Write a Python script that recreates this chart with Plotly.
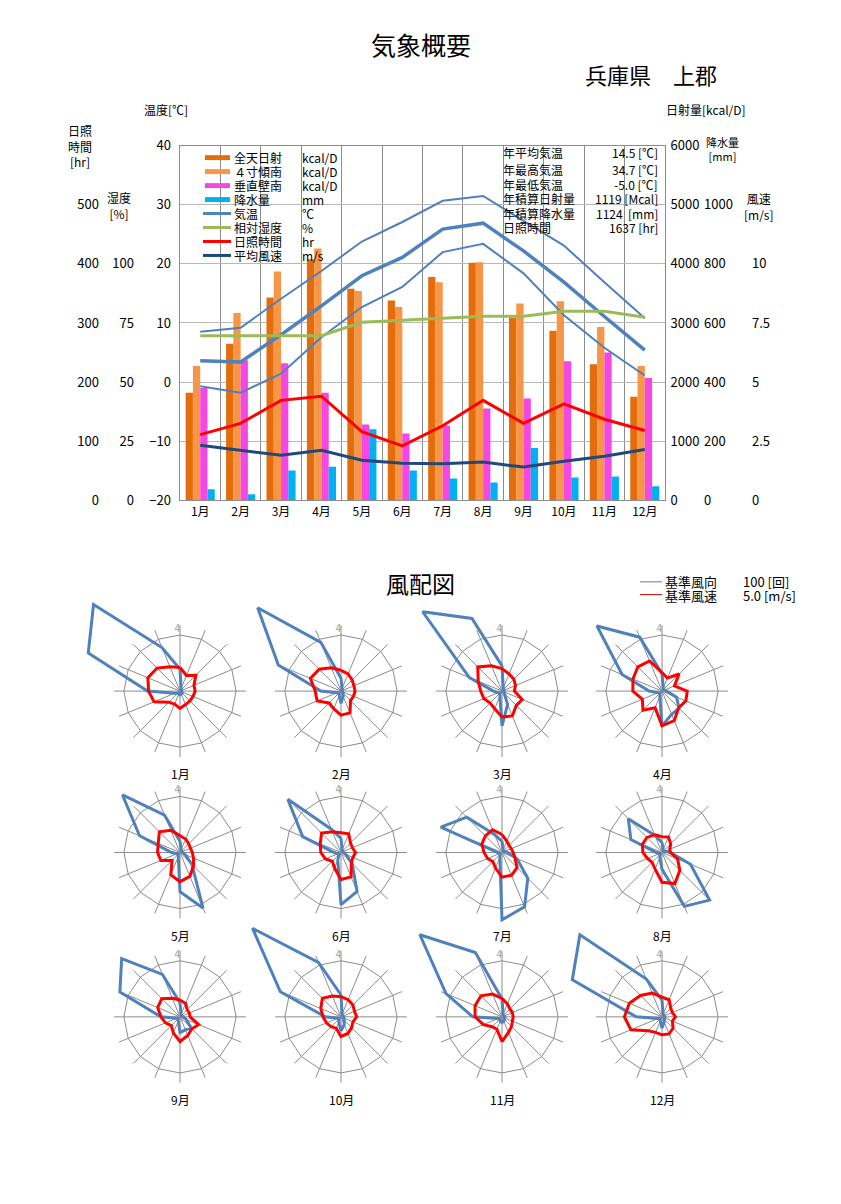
import plotly.graph_objects as go

W, H = 841, 1204
FONT = "Noto Sans CJK JP"

# ---- monthly summary data ----
months = ["1月", "2月", "3月", "4月", "5月", "6月", "7月", "8月", "9月", "10月", "11月", "12月"]
solar_total = [1820, 2650, 3430, 4080, 3580, 3380, 3780, 4020, 3090, 2870, 2300, 1750]   # kcal/D
solar_tilt = [2270, 3170, 3870, 4260, 3540, 3270, 3690, 4030, 3330, 3370, 2930, 2270]    # kcal/D
solar_wall = [1900, 2370, 2320, 1820, 1280, 1130, 1260, 1550, 1720, 2350, 2500, 2070]    # kcal/D
precip = [37, 20, 100, 113, 240, 100, 73, 60, 177, 77, 80, 47]                            # mm
temp_max = [8.5, 9.2, 14.1, 18.8, 23.8, 27.1, 30.7, 31.5, 27.3, 23.1, 16.9, 10.8]
temp_mean = [3.6, 3.4, 8.0, 12.9, 18.0, 21.1, 25.9, 26.9, 22.2, 16.9, 11.1, 5.4]
temp_min = [-0.7, -1.8, 1.4, 7.6, 12.7, 16.1, 22.0, 23.4, 18.4, 11.3, 5.8, 1.1]
humidity = [69.6, 69.6, 69.6, 69.6, 75.3, 76.1, 77.2, 77.9, 77.9, 80.0, 80.0, 77.4]
sunshine = [111, 130, 169, 176, 116, 92, 126, 169, 130, 163, 137, 118]
wind_mean = [2.32, 2.11, 1.90, 2.11, 1.69, 1.56, 1.54, 1.61, 1.40, 1.65, 1.86, 2.14]

stats_labels = ["年平均気温", "年最高気温", "年最低気温", "年積算日射量", "年積算降水量", "日照時間"]
stats_values = ["14.5 [℃]", "34.7 [℃]", "-5.0 [℃]", "1119 [Mcal]", "1124  [mm]", "1637 [hr]"]

# ---- wind rose data (16 directions, clockwise from N) ----
dirs = ["N", "NNE", "NE", "ENE", "E", "ESE", "SE", "SSE",
        "S", "SSW", "SW", "WSW", "W", "WNW", "NW", "NNW"]
REF_COUNT = 100   # 基準風向 [回]
REF_SPEED = 5.0   # 基準風速 [m/s]
dir_count = [
    [39, 5, 3, 3, 3, 3, 5, 5, 8, 5, 5, 10, 58, 177, 218, 84],
    [23, 5, 3, 3, 3, 3, 5, 10, 22, 8, 5, 8, 36, 121, 210, 94],
    [45, 6, 4, 4, 4, 4, 6, 26, 62, 10, 5, 8, 15, 63, 200, 140],
    [31, 6, 4, 5, 8, 28, 43, 45, 62, 10, 5, 8, 23, 77, 164, 104],
    [20, 5, 4, 4, 5, 10, 30, 107, 70, 8, 5, 6, 15, 78, 145, 72],
    [25, 5, 4, 4, 5, 10, 28, 75, 93, 15, 5, 6, 12, 74, 134, 45],
    [20, 5, 4, 5, 10, 29, 65, 105, 120, 10, 5, 5, 8, 118, 89, 35],
    [18, 5, 4, 6, 15, 55, 120, 104, 30, 10, 5, 5, 10, 60, 85, 33],
    [25, 5, 4, 4, 6, 12, 28, 25, 28, 8, 5, 6, 34, 116, 147, 82],
    [39, 5, 4, 4, 5, 5, 8, 15, 25, 10, 5, 6, 28, 117, 223, 105],
    [32, 5, 4, 4, 5, 5, 6, 8, 10, 8, 6, 8, 52, 108, 207, 124],
    [30, 5, 4, 4, 5, 5, 6, 10, 20, 8, 5, 8, 46, 173, 207, 73],
]
dir_speed = [
    [2.1, 1.5, 2.0, 1.35, 1.35, 1.25, 1.25, 1.3, 1.55, 1.25, 1.4, 2.5, 2.8, 3.1, 2.9, 2.35],
    [1.85, 1.65, 1.4, 1.25, 1.25, 1.2, 1.2, 2.1, 2.15, 1.7, 1.5, 2.3, 2.3, 2.95, 2.75, 2.25],
    [2.0, 1.65, 1.5, 1.3, 1.1, 1.95, 1.8, 2.4, 2.3, 1.7, 1.5, 1.75, 1.9, 2.3, 3.05, 2.45],
    [1.65, 1.25, 2.15, 1.2, 2.25, 2.3, 2.1, 2.85, 3.1, 1.6, 2.4, 1.9, 2.6, 2.8, 3.05, 2.9],
    [1.5, 1.3, 1.1, 1.0, 1.1, 1.3, 1.7, 2.3, 2.6, 2.15, 1.0, 1.85, 2.0, 2.1, 2.6, 2.15],
    [1.75, 1.8, 1.2, 1.1, 1.3, 1.15, 1.3, 2.35, 2.4, 1.5, 1.1, 1.5, 1.8, 2.0, 2.45, 2.0],
    [1.6, 1.1, 0.9, 0.9, 1.0, 1.25, 1.9, 2.2, 2.2, 1.5, 1.15, 1.4, 1.6, 1.95, 2.1, 2.2],
    [1.4, 1.5, 1.1, 0.75, 0.75, 1.5, 2.25, 3.0, 2.65, 1.6, 1.25, 1.4, 1.7, 1.9, 1.9, 1.7],
    [1.5, 1.3, 0.9, 0.9, 0.9, 1.8, 1.5, 1.8, 2.2, 1.55, 1.1, 1.4, 1.7, 2.15, 2.3, 1.8],
    [1.8, 1.65, 1.5, 1.3, 1.4, 1.15, 1.35, 1.6, 1.75, 1.1, 1.25, 1.4, 1.6, 1.95, 2.35, 2.0],
    [1.65, 1.25, 1.0, 1.0, 1.0, 1.0, 1.2, 1.5, 2.2, 1.2, 1.25, 1.8, 2.4, 2.6, 2.65, 2.2],
    [1.75, 1.65, 1.1, 1.0, 1.2, 1.0, 1.4, 1.65, 1.6, 1.5, 1.75, 3.0, 3.35, 3.15, 2.7, 2.3],
]

C_TOTAL, C_TILT, C_WALL, C_RAIN = "#E46C0A", "#F79646", "#F447E3", "#00B0F0"
C_TEMP, C_HUM, C_SUN, C_WIND = "#4F81BD", "#9BBB59", "#FF0000", "#1F497D"
GRID = "#8c8c8c"


def fx(px):
    return px / W


def fy(py):
    return 1 - py / H


fig = go.Figure()

# ---- main chart: bars ----
bar_specs = [
    (solar_total, C_TOTAL, "y", -0.36),
    (solar_tilt, C_TILT, "y", -0.18),
    (solar_wall, C_WALL, "y", 0.0),
    (precip, C_RAIN, "y2", 0.18),
]
for vals, col, ax, off in bar_specs:
    fig.add_trace(go.Bar(x=months, y=vals, yaxis=ax, width=0.18, offset=off,
                         marker=dict(color=col, line=dict(width=0)), showlegend=False))

# ---- main chart: lines ----
for vals, w in [(temp_max, 2), (temp_mean, 3.5), (temp_min, 2)]:
    fig.add_trace(go.Scatter(x=months, y=vals, yaxis="y3", mode="lines",
                             line=dict(color=C_TEMP, width=w), showlegend=False))
fig.add_trace(go.Scatter(x=months, y=humidity, yaxis="y4", mode="lines",
                         line=dict(color=C_HUM, width=3), showlegend=False))
fig.add_trace(go.Scatter(x=months, y=sunshine, yaxis="y5", mode="lines",
                         line=dict(color=C_SUN, width=3), showlegend=False))
fig.add_trace(go.Scatter(x=months, y=wind_mean, yaxis="y6", mode="lines",
                         line=dict(color=C_WIND, width=3), showlegend=False))

tickfont = dict(family=FONT, size=13, color="black")
plot_dom_y = [fy(498), fy(138)]
common = dict(showgrid=False, zeroline=False, ticks="", tickfont=tickfont)

fig.update_layout(
    xaxis=dict(domain=[fx(180), fx(665)], type="category", categoryarray=months,
               tickson="boundaries", showgrid=True, gridcolor=GRID, showline=True,
               linecolor=GRID, mirror=True, ticks="", tickfont=dict(family=FONT, size=12, color="black")),
    yaxis=dict(domain=plot_dom_y, anchor="x", side="right", range=[0, 6000], dtick=1000,
               showgrid=True, gridcolor="#b8b8b8", showline=True, linecolor=GRID, mirror=True,
               zeroline=False, ticks="", tickfont=tickfont, ticklabelstandoff=2),
    yaxis2=dict(overlaying="y", anchor="free", side="right", position=fx(703), range=[0, 1200],
                tickvals=[0, 200, 400, 600, 800, 1000], **common),
    yaxis3=dict(overlaying="y", anchor="x", side="left", range=[-20, 40], dtick=10,
                ticklabelstandoff=8, **common),
    yaxis4=dict(overlaying="y", anchor="free", side="left", position=fx(134), range=[0, 150],
                tickvals=[0, 25, 50, 75, 100], **common),
    yaxis5=dict(overlaying="y", anchor="free", side="left", position=fx(99), range=[0, 600],
                tickvals=[0, 100, 200, 300, 400, 500], **common),
    yaxis6=dict(overlaying="y", anchor="free", side="right", position=fx(751), range=[0, 15],
                tickvals=[0, 2.5, 5, 7.5, 10], ticktext=["0", "2.5", "5", "7.5", "10"], **common),
    barmode="overlay",
)

annotations = []
shapes = []


def text(t, x, y, size=12, xanchor="center", color="black"):
    annotations.append(dict(text=t, x=fx(x), y=fy(y), xref="paper", yref="paper",
                            xanchor=xanchor, yanchor="middle", showarrow=False,
                            font=dict(family=FONT, size=size, color=color)))


# titles
text("気象概要", 421, 35, 25)
text("兵庫県　上郡", 651, 65, 22)
text("風配図", 420, 582, 23)

# axis titles
text("温度[℃]", 166, 101)
text("日照<br>時間<br>[hr]", 80, 138)
text("湿度<br>[%]", 119, 199)
text("日射量[kcal/D]", 706, 101)
text("降水量<br>[mm]", 722, 141, 11)
text("風速<br>[m/s]", 759, 200)

# manual legend (compact rows like the original)
legend_rows = [
    ("全天日射", "kcal/D", C_TOTAL, "bar"),
    ("４寸傾南", "kcal/D", C_TILT, "bar"),
    ("垂直壁南", "kcal/D", C_WALL, "bar"),
    ("降水量", "mm", C_RAIN, "bar"),
    ("気温", "℃", C_TEMP, "line"),
    ("相対湿度", "%", C_HUM, "line"),
    ("日照時間", "hr", C_SUN, "line"),
    ("平均風速", "m/s", C_WIND, "line"),
]
for i, (name, unit, col, kind) in enumerate(legend_rows):
    y = 150 + i * 14.2
    if kind == "bar":
        shapes.append(dict(type="rect", xref="paper", yref="paper", x0=fx(205), x1=fx(230),
                           y0=fy(y + 2.5), y1=fy(y - 2.5), fillcolor=col, line=dict(width=0)))
    else:
        shapes.append(dict(type="line", xref="paper", yref="paper", x0=fx(203), x1=fx(231),
                           y0=fy(y), y1=fy(y), line=dict(color=col, width=3)))
    text(name, 232, y, 12, "left")
    text(unit, 300, y, 12, "left")

# stats block
stats_y = [145, 162, 177, 192, 207, 221]
for lab, val, y in zip(stats_labels, stats_values, stats_y):
    text(lab, 501, y, 12, "left")
    text(val, 660, y, 12, "right")

# wind rose legend
shapes.append(dict(type="line", xref="paper", yref="paper", x0=fx(640), x1=fx(662),
                   y0=fy(581), y1=fy(581), line=dict(color=C_TEMP, width=1)))
shapes.append(dict(type="line", xref="paper", yref="paper", x0=fx(640), x1=fx(662),
                   y0=fy(594), y1=fy(594), line=dict(color="#C00000", width=1)))
text("基準風向", 663, 581, 13, "left")
text("%d [回]" % REF_COUNT, 741, 581, 13, "left")
text("基準風速", 663, 595, 13, "left")
text("%.1f [m/s]" % REF_SPEED, 741, 595, 13, "left")

# ---- wind roses ----
rose_cx = [180, 341, 502, 662]
rose_cy = [692, 856, 1023]
PX_UNIT = 57          # pixels for the reference circle
R_MAX = 2.35          # radial extent of each polar area (in reference-circle units)
SPOKE = 1.175
half = R_MAX * PX_UNIT

spoke_r, spoke_t = [], []
for d in dirs:
    spoke_r += [0, SPOKE, None]
    spoke_t += [d, d, None]

for m in range(12):
    cx, cy = rose_cx[m % 4], rose_cy[m // 4]
    key = "polar" if m == 0 else "polar%d" % (m + 1)
    fig.add_trace(go.Scatterpolar(r=spoke_r, theta=spoke_t, mode="lines", subplot=key,
                                  line=dict(color=GRID, width=1), showlegend=False))
    fig.add_trace(go.Scatterpolar(r=[1] * 17, theta=dirs + dirs[:1], mode="lines", subplot=key,
                                  line=dict(color=GRID, width=1), showlegend=False))
    cnt = [c / REF_COUNT for c in dir_count[m]]
    spd = [s / REF_SPEED for s in dir_speed[m]]
    fig.add_trace(go.Scatterpolar(r=cnt + cnt[:1], theta=dirs + dirs[:1], mode="lines", subplot=key,
                                  line=dict(color=C_TEMP, width=3), showlegend=False))
    fig.add_trace(go.Scatterpolar(r=spd + spd[:1], theta=dirs + dirs[:1], mode="lines", subplot=key,
                                  line=dict(color="#FF0000", width=3), showlegend=False))
    fig.add_trace(go.Scatterpolar(r=[1.1], theta=["N"], mode="text", text=["4"], subplot=key,
                                  textposition="middle left",
                                  textfont=dict(family=FONT, size=10, color="#a0a0a0"),
                                  showlegend=False))
    fig.layout[key] = dict(
        domain=dict(x=[fx(cx - half), fx(cx + half)], y=[fy(cy + half), fy(cy - half)]),
        bgcolor="rgba(0,0,0,0)",
        radialaxis=dict(range=[0, R_MAX], visible=False),
        angularaxis=dict(type="category", categoryarray=dirs, rotation=90, direction="clockwise",
                         visible=False, showgrid=False, showline=False, showticklabels=False),
    )
    text(months[m], cx, cy + 84, 12)

fig.update_layout(
    width=W, height=H, margin=dict(l=0, r=0, t=0, b=0),
    paper_bgcolor="white", plot_bgcolor="white", showlegend=False,
    annotations=annotations, shapes=shapes,
    font=dict(family=FONT, color="black"),
)

# drop the default page margin so the figure sits at the window origin
fig.write_html("out.html", config={"displayModeBar": False},
               post_script="document.body.style.margin='0';document.body.style.overflow='hidden';")
